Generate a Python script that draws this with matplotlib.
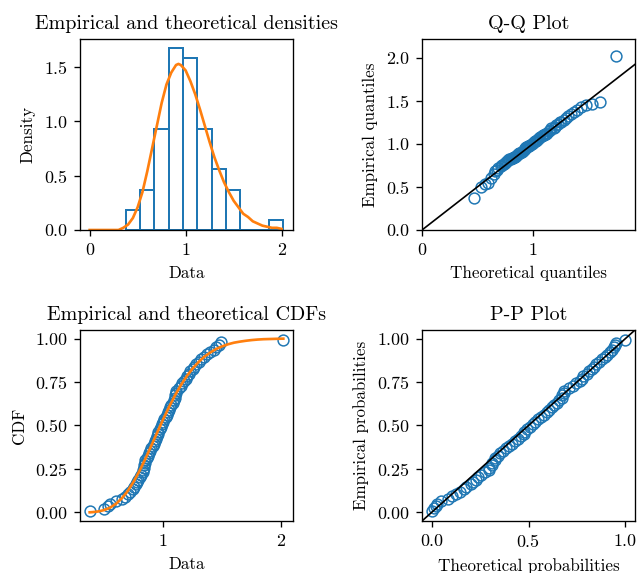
import matplotlib
matplotlib.use("Agg")
import matplotlib.pyplot as plt
import numpy as np

plt.rcParams.update(
    {
        "font.family": "cmr10",
        "mathtext.fontset": "cm",
        "axes.formatter.use_mathtext": True,
        "font.size": 10,
        "axes.titlesize": 12,
        "axes.labelsize": 10.2,
        "axes.labelpad": 5,
        "xtick.labelsize": 10.8,
        "ytick.labelsize": 10.8,
    }
)

# ── Data (sorted sample, 72 values) ─────────────────────────────────────────
data = np.array([
    0.377, 0.50,
    0.53, 0.55, 0.60, 0.65,
    0.68, 0.70, 0.72, 0.74, 0.75, 0.77, 0.78, 0.79, 0.80, 0.81,
    0.83, 0.83, 0.84, 0.84, 0.85, 0.85, 0.86, 0.87, 0.88, 0.89, 0.90, 0.91,
    0.92, 0.93, 0.94, 0.95, 0.96, 0.96,
    0.975, 0.98, 0.99, 1.00, 1.01, 1.02, 1.03, 1.04, 1.05, 1.06, 1.07, 1.08,
    1.09, 1.10, 1.10, 1.11, 1.11,
    1.13, 1.15, 1.16, 1.18, 1.19, 1.20, 1.22, 1.23, 1.25, 1.26,
    1.28, 1.30, 1.32, 1.35, 1.37, 1.40,
    1.43, 1.45, 1.47, 1.49,
    2.018,
])

# theoretical quantiles (Q-Q x axis)
qq_theoretical = np.array([
    0.47, 0.53, 0.57, 0.60, 0.62, 0.65, 0.66, 0.68, 0.69, 0.71, 0.72, 0.74,
    0.75, 0.76, 0.77, 0.78, 0.79, 0.80, 0.81, 0.82, 0.83, 0.84, 0.85, 0.86,
    0.87, 0.88, 0.89, 0.90, 0.91, 0.92, 0.93, 0.93, 0.94, 0.95, 0.96, 0.97,
    0.98, 0.99, 1.00, 1.01, 1.02, 1.03, 1.04, 1.05, 1.06, 1.07, 1.08, 1.09,
    1.10, 1.11, 1.12, 1.13, 1.15, 1.16, 1.17, 1.19, 1.20, 1.21, 1.23, 1.25,
    1.26, 1.28, 1.30, 1.32, 1.35, 1.37, 1.40, 1.44, 1.48, 1.54, 1.61, 1.75,
])

# theoretical probabilities (P-P x axis)
pp_theoretical = np.array([
    0.001, 0.014, 0.021, 0.028, 0.050, 0.082, 0.106, 0.124, 0.144, 0.166, 0.178, 0.202,
    0.214, 0.227, 0.240, 0.254, 0.275, 0.296, 0.296, 0.310, 0.310, 0.325, 0.325, 0.340,
    0.355, 0.370, 0.385, 0.400, 0.415, 0.431, 0.446, 0.461, 0.476, 0.476, 0.491, 0.506,
    0.521, 0.536, 0.550, 0.565, 0.579, 0.593, 0.607, 0.621, 0.634, 0.647, 0.660, 0.673,
    0.673, 0.685, 0.685, 0.709, 0.732, 0.743, 0.764, 0.774, 0.784, 0.802, 0.811, 0.828,
    0.836, 0.851, 0.865, 0.878, 0.896, 0.906, 0.920, 0.933, 0.940, 0.946, 0.952, 0.999,
])

# fitted density curve
pdf_x = np.array([0.00, 0.05, 0.10, 0.15, 0.20, 0.25, 0.30, 0.35, 0.40, 0.45, 0.50, 0.55,
                  0.60, 0.65, 0.70, 0.75, 0.80, 0.85, 0.90, 0.925, 0.95, 1.00, 1.05, 1.10,
                  1.15, 1.20, 1.25, 1.30, 1.35, 1.40, 1.45, 1.50, 1.55, 1.60, 1.65, 1.70,
                  1.75, 1.80, 1.85, 1.90, 1.95, 2.00])
pdf_y = np.array([0.00, 0.00, 0.00, 0.00, 0.00, 0.00, 0.00, 0.02, 0.05, 0.11, 0.21, 0.35,
                  0.54, 0.75, 0.96, 1.17, 1.34, 1.45, 1.52, 1.53, 1.52, 1.47, 1.37, 1.25,
                  1.11, 0.96, 0.81, 0.67, 0.55, 0.44, 0.35, 0.27, 0.21, 0.15, 0.12, 0.08,
                  0.06, 0.04, 0.03, 0.02, 0.02, 0.01])

# fitted CDF curve
cdf_x = np.array([0.377, 0.40, 0.45, 0.50, 0.55, 0.60, 0.65, 0.70, 0.75, 0.80, 0.85, 0.90,
                  0.95, 1.00, 1.05, 1.10, 1.15, 1.20, 1.25, 1.30, 1.35, 1.40, 1.45, 1.50,
                  1.55, 1.60, 1.65, 1.70, 1.75, 1.80, 1.85, 1.90, 1.95, 2.00, 2.018])
cdf_y = np.array([0.001, 0.002, 0.006, 0.014, 0.028, 0.050, 0.082, 0.124, 0.178, 0.240, 0.310, 0.385,
                  0.461, 0.536, 0.607, 0.673, 0.732, 0.784, 0.828, 0.865, 0.896, 0.920, 0.940, 0.955,
                  0.967, 0.976, 0.982, 0.987, 0.991, 0.994, 0.996, 0.997, 0.998, 0.999, 0.999])

n = len(data)
emp_prob = (np.arange(1, n + 1) - 0.375) / (n + 0.25)

MK = dict(marker="o", linestyle="none", markersize=6.5, markerfacecolor="none",
          markeredgecolor="C0", markeredgewidth=0.9)

DPI = 120
W, H = 640, 573
fig = plt.figure(figsize=(W / DPI, H / DPI), dpi=DPI)


def add_ax(left, top, right, bottom):
    return fig.add_axes([left / W, 1 - bottom / H, (right - left) / W, (bottom - top) / H])


ax_pdf = add_ax(80, 39, 293, 230)
ax_qq = add_ax(422, 39, 635, 230)
ax_cdf = add_ax(80, 330, 293, 521)
ax_pp = add_ax(422, 330, 635, 521)

# ── Densities ───────────────────────────────────────────────────────────────
ax_pdf.hist(data, bins=11, density=True, fill=False, edgecolor="C0", linewidth=1.2)
ax_pdf.plot(pdf_x, pdf_y, color="C1", linewidth=1.6)
ax_pdf.set_xticks([0, 1, 2])
ax_pdf.set_title("Empirical and theoretical densities")
ax_pdf.set_xlabel("Data")
ax_pdf.set_ylabel("Density")

# ── Q-Q ─────────────────────────────────────────────────────────────────────
ax_qq.plot(qq_theoretical, data, **MK)
ax_qq.axline((0, 0), slope=1, color="black", linewidth=1.0)
ax_qq.set_xlim(0, 1.1 * qq_theoretical.max())
ax_qq.set_ylim(0, 1.1 * data.max())
ax_qq.set_xticks([0, 1])
ax_qq.set_title("Q-Q Plot")
ax_qq.set_xlabel("Theoretical quantiles")
ax_qq.set_ylabel("Empirical quantiles")

# ── CDFs ────────────────────────────────────────────────────────────────────
ax_cdf.plot(data, emp_prob, **MK)
ax_cdf.plot(cdf_x, cdf_y, color="C1", linewidth=1.6)
ax_cdf.set_xticks([1, 2])
ax_cdf.set_title("Empirical and theoretical CDFs")
ax_cdf.set_xlabel("Data")
ax_cdf.set_ylabel("CDF")

# ── P-P ─────────────────────────────────────────────────────────────────────
ax_pp.plot(pp_theoretical, emp_prob, **MK)
ax_pp.axline((0, 0), slope=1, color="black", linewidth=1.0)
ax_pp.set_xlim(-0.05, 1.05)
ax_pp.set_ylim(-0.05, 1.05)
ax_pp.set_xticks([0.0, 0.5, 1.0])
ax_pp.set_yticks([0.0, 0.25, 0.5, 0.75, 1.0])
ax_pp.set_title("P-P Plot")
ax_pp.set_xlabel("Theoretical probabilities")
ax_pp.set_ylabel("Empirical probabilities")

fig.savefig("out.png", dpi=DPI)
